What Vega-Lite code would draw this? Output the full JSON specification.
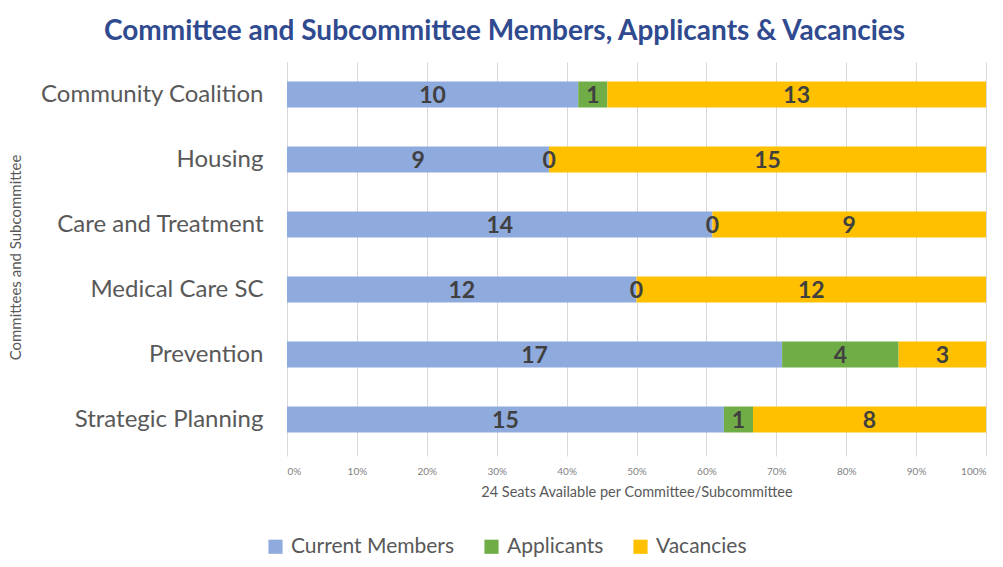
{
  "$schema": "https://vega.github.io/schema/vega-lite/v6.json",
  "width": 699,
  "height": 390,
  "autosize": "none",
  "padding": {"left": 287, "top": 62, "right": 17, "bottom": 115},
  "background": "white",
  "config": {"view": {"stroke": null}, "font": "Lato"},
  "title": {
    "text": "Committee and Subcommittee Members, Applicants & Vacancies",
    "fontSize": 28, "fontWeight": "bold", "color": "#2F4A8F", "font": "Lato",
    "frame": "group", "anchor": "middle", "dx": -132, "offset": 16
  },
  "data": {"values": [
    {"committee": "Community Coalition", "category": "Current Members", "k": 1, "seats": 10},
    {"committee": "Community Coalition", "category": "Applicants", "k": 2, "seats": 1},
    {"committee": "Community Coalition", "category": "Vacancies", "k": 3, "seats": 13},
    {"committee": "Housing", "category": "Current Members", "k": 1, "seats": 9},
    {"committee": "Housing", "category": "Applicants", "k": 2, "seats": 0},
    {"committee": "Housing", "category": "Vacancies", "k": 3, "seats": 15},
    {"committee": "Care and Treatment", "category": "Current Members", "k": 1, "seats": 14},
    {"committee": "Care and Treatment", "category": "Applicants", "k": 2, "seats": 0},
    {"committee": "Care and Treatment", "category": "Vacancies", "k": 3, "seats": 9},
    {"committee": "Medical Care SC", "category": "Current Members", "k": 1, "seats": 12},
    {"committee": "Medical Care SC", "category": "Applicants", "k": 2, "seats": 0},
    {"committee": "Medical Care SC", "category": "Vacancies", "k": 3, "seats": 12},
    {"committee": "Prevention", "category": "Current Members", "k": 1, "seats": 17},
    {"committee": "Prevention", "category": "Applicants", "k": 2, "seats": 4},
    {"committee": "Prevention", "category": "Vacancies", "k": 3, "seats": 3},
    {"committee": "Strategic Planning", "category": "Current Members", "k": 1, "seats": 15},
    {"committee": "Strategic Planning", "category": "Applicants", "k": 2, "seats": 1},
    {"committee": "Strategic Planning", "category": "Vacancies", "k": 3, "seats": 8}
  ]},
  "transform": [
    {"stack": "seats", "groupby": ["committee"], "offset": "normalize", "sort": [{"field": "k", "order": "ascending"}], "as": ["s0", "s1"]}
  ],
  "encoding": {
    "y": {
      "field": "committee", "type": "nominal",
      "sort": ["Community Coalition", "Housing", "Care and Treatment", "Medical Care SC", "Prevention", "Strategic Planning"],
      "scale": {"paddingInner": 0.6, "paddingOuter": 0.3},
      "axis": {
        "title": "Committees and Subcommittee", "titleFontSize": 15, "titleFontWeight": "normal",
        "titleColor": "#595959", "titleX": -264, "titleY": 195, "titleAngle": -90, "titleBaseline": "bottom",
        "labelFontSize": 24, "labelColor": "#595959", "labelPadding": 24, "labelLimit": 0,
        "ticks": false, "domain": true, "domainColor": "#d9d9d9", "grid": false
      }
    }
  },
  "layer": [
    {
      "mark": {"type": "bar"},
      "encoding": {
        "x": {
          "field": "s0", "type": "quantitative",
          "scale": {"domain": [0, 1]},
          "axis": {
            "title": "24 Seats Available per Committee/Subcommittee", "titleFontSize": 14.5, "titleFontWeight": "normal",
            "titleColor": "#595959", "titlePadding": 9,
            "format": "%", "values": [0,0.1,0.2,0.3,0.4,0.5,0.6,0.7,0.8,0.9,1], "labelOverlap": false,
            "labelFontSize": 10, "labelColor": "#7f7f7f", "labelPadding": 10,
            "grid": true, "gridColor": "#d9d9d9", "tickColor": "#d9d9d9", "tickSize": 4,
            "domain": false
          }
        },
        "x2": {"field": "s1"},
        "color": {
          "field": "category", "type": "nominal",
          "scale": {"domain": ["Current Members", "Applicants", "Vacancies"], "range": ["#8FAADC", "#70AD47", "#FFC000"]},
          "legend": {
            "title": null, "orient": "none", "direction": "horizontal",
            "legendX": -22, "legendY": 474,
            "symbolType": "square", "symbolSize": 200, "symbolStrokeWidth": 0, "symbolOpacity": 1,
            "labelFontSize": 21, "labelColor": "#595959", "labelLimit": 0, "columnPadding": 26, "labelOffset": 5
          }
        }
      }
    },
    {
      "transform": [
        {"fold": ["s0", "s1"], "as": ["edge", "pos"]},
        {"aggregate": [{"op": "mean", "field": "pos", "as": "mid"}], "groupby": ["committee", "category", "seats"]}
      ],
      "mark": {"type": "text", "fontSize": 23, "fontWeight": "bold", "color": "#404040", "baseline": "middle", "align": "center", "dy": 1},
      "encoding": {
        "x": {"field": "mid", "type": "quantitative"},
        "text": {"field": "seats", "type": "quantitative"}
      }
    }
  ]
}
